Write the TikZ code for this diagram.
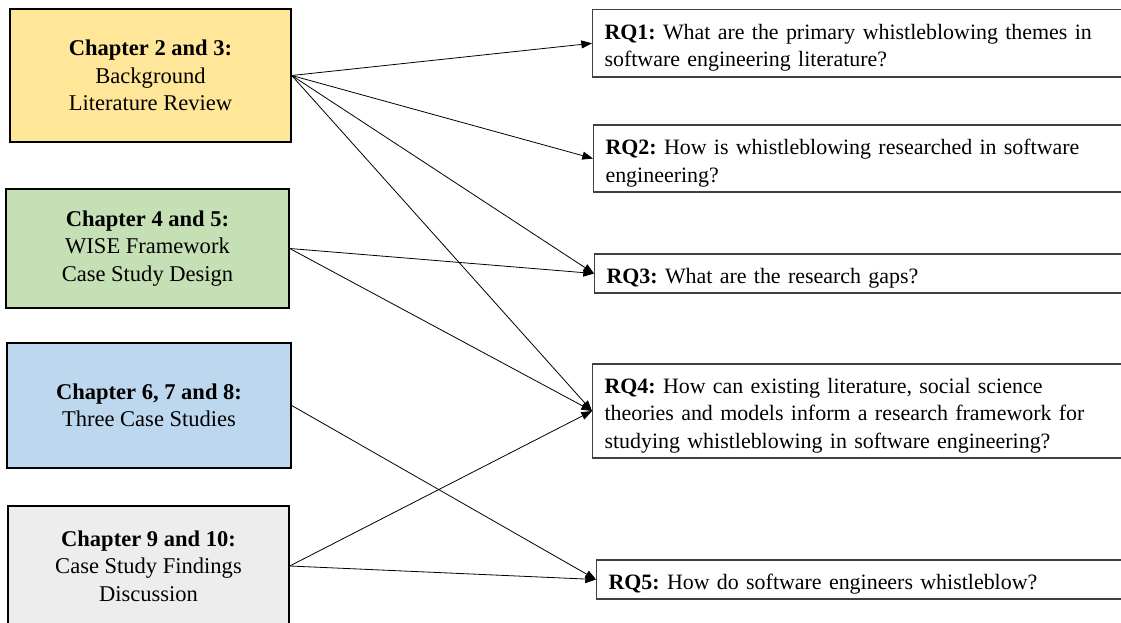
\documentclass[tikz,border=0pt]{standalone}
\usepackage{fontspec}
\setmainfont{Liberation Serif}
\usetikzlibrary{arrows.meta}
\frenchspacing

\definecolor{chyellow}{HTML}{FFE699}
\definecolor{chgreen}{HTML}{C5E0B4}
\definecolor{chblue}{HTML}{BDD7EE}
\definecolor{chgrey}{HTML}{EDEDED}
\definecolor{rqborder}{HTML}{404040}

% invisible strut that leaves extra room above the first line of a question
\newcommand{\rqstrut}{\rule{0pt}{18.5pt}}

\tikzset{
  chapterbox/.style={draw=black, line width=1.1pt, rectangle, align=center,
    inner sep=0pt, font=\fontsize{16.9pt}{20.6pt}\selectfont},
  rqbox/.style={draw=rqborder, line width=0.8pt, rectangle, anchor=west,
    align=left, text width=432pt, inner xsep=9pt, inner ysep=0pt,
    font=\fontsize{16.45pt}{20.6pt}\selectfont},
  link/.style={line width=0.6pt, -{Triangle[length=8pt,width=6pt]}}
}

\begin{document}
\begin{tikzpicture}[x=0.75pt, y=-0.75pt]
  \useasboundingbox (0,0) rectangle (1121,623);
  \clip (0,0) rectangle (1121,623);

  % chapter groups
  \node[chapterbox, fill=chyellow, minimum width=210.75pt, minimum height=99.75pt]
    (ch23) at (150.5,75.5) {\textbf{Chapter 2 and 3:}\\Background\\Literature Review};
  \node[chapterbox, fill=chgreen, minimum width=212.25pt, minimum height=89.25pt]
    (ch45) at (147.5,248.5) {\textbf{Chapter 4 and 5:}\\WISE Framework\\Case Study Design};
  \node[chapterbox, fill=chblue, minimum width=213pt, minimum height=93.75pt]
    (ch678) at (149,405.5) {\textbf{Chapter 6, 7 and 8:}\\Three Case Studies};
  \node[chapterbox, fill=chgrey, minimum width=210.75pt, minimum height=90pt]
    (ch910) at (148.5,566) {\textbf{Chapter 9 and 10:}\\Case Study Findings\\Discussion};

  % research questions
  \node[rqbox, minimum height=50.6pt] (rq1) at (592,43.3)
    {\rqstrut\textbf{RQ1:} What are the primary whistleblowing themes in\\software engineering literature?};
  \node[rqbox, minimum height=50.25pt] (rq2) at (593,158.5)
    {\rqstrut\textbf{RQ2:} How is whistleblowing researched in software\\engineering?};
  \node[rqbox, minimum height=29.25pt] (rq3) at (594,273.5)
    {\rqstrut\textbf{RQ3:} What are the research gaps?};
  \node[rqbox, minimum height=70.5pt] (rq4) at (592,411)
    {\rqstrut\textbf{RQ4:} How can existing literature, social science\\theories and models inform a research framework for\\studying whistleblowing in software engineering?};
  \node[rqbox, minimum height=29.25pt] (rq5) at (596,579.5)
    {\rqstrut\textbf{RQ5:} How do software engineers whistleblow?};

  % links from chapters to questions
  \draw[link] (ch23.east) -- (rq1.west);
  \draw[link] (ch23.east) -- (rq2.west);
  \draw[link] (ch23.east) -- (rq3.west);
  \draw[link] (ch23.east) -- (rq4.west);
  \draw[link] (ch45.east) -- (rq3.west);
  \draw[link] (ch45.east) -- (rq4.west);
  \draw[link] (ch678.east) -- (rq5.west);
  \draw[link] (ch910.east) -- (rq4.west);
  \draw[link] (ch910.east) -- (rq5.west);
\end{tikzpicture}
\end{document}
